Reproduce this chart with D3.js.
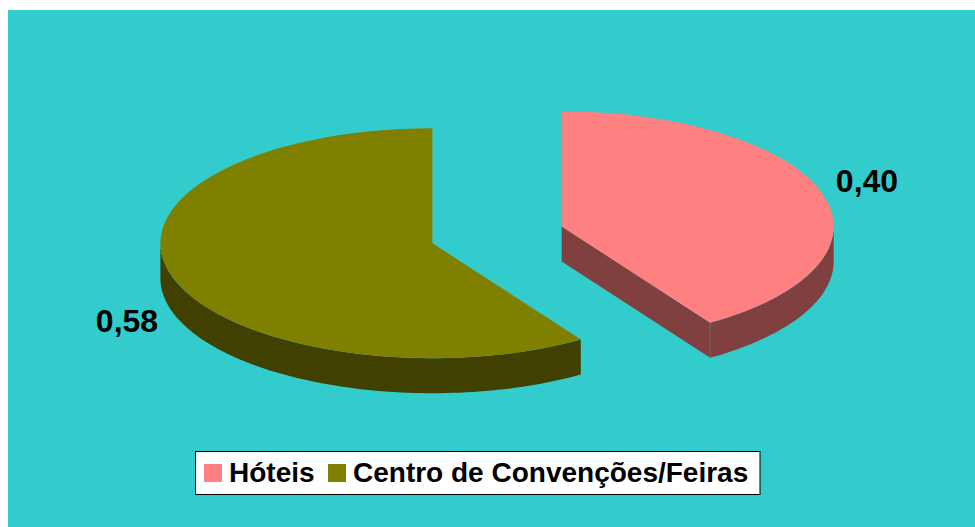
<!DOCTYPE html>
<html><head><meta charset="utf-8">
<script src="https://cdn.jsdelivr.net/npm/d3@7/dist/d3.min.js"></script>
<style>html,body{margin:0;padding:0;background:#fff}svg{display:block}text{font-family:"Liberation Sans",Arial,sans-serif;font-weight:bold;fill:#000}</style>
</head><body><script>
const categories = ["Hóteis", "Centro de Convenções/Feiras"];
const values = [0.40, 0.58];
const valueLabels = ["0,40", "0,58"];
const topColors = ["#FF8080", "#808000"];
const sideColors = ["#804040", "#404000"];

const W = 975, H = 527;
const rx = 272, ry = 115, depth = 35;
const centers = [[561.7, 226.4], [432.4, 243.2]];
const labelPos = [[867, 192], [127, 332]];

const svg = d3.select("body").append("svg").attr("width", W).attr("height", H);
svg.append("rect").attr("x", 8).attr("y", 10).attr("width", W - 8).attr("height", H - 10).attr("fill", "#33CCCC");

const arcs = d3.pie().sort(null).value(d => d)(values);
const arcGen = d3.arc().innerRadius(0).outerRadius(rx);

// Maps pie angle (clockwise from 12 o'clock) to the tilted ellipse
const px = a => rx * Math.sin(a);
const py = a => -ry * Math.cos(a);

function wall(c, a0, a1) {
  const p = d3.path();
  const n = 90;
  const pts = d3.range(n + 1).map(i => a0 + (a1 - a0) * i / n);
  pts.forEach((a, i) => { i ? p.lineTo(c[0] + px(a), c[1] + py(a)) : p.moveTo(c[0] + px(a), c[1] + py(a)); });
  pts.slice().reverse().forEach(a => p.lineTo(c[0] + px(a), c[1] + py(a) + depth));
  p.closePath();
  return p.toString();
}
function cutFace(c, a) {
  const p = d3.path();
  p.moveTo(c[0], c[1]);
  p.lineTo(c[0] + px(a), c[1] + py(a));
  p.lineTo(c[0] + px(a), c[1] + py(a) + depth);
  p.lineTo(c[0], c[1] + depth);
  p.closePath();
  return p.toString();
}

// Hotel slice walls: outer rim from 3 o'clock to the cut, and the cut face
svg.append("path").attr("d", cutFace(centers[0], arcs[0].endAngle)).attr("fill", sideColors[0]);
svg.append("path").attr("d", wall(centers[0], Math.PI / 2, arcs[0].endAngle)).attr("fill", sideColors[0]);
svg.append("line")
  .attr("x1", centers[0][0] + px(arcs[0].endAngle)).attr("x2", centers[0][0] + px(arcs[0].endAngle))
  .attr("y1", centers[0][1] + py(arcs[0].endAngle)).attr("y2", centers[0][1] + py(arcs[0].endAngle) + depth)
  .attr("stroke", "#8a6a6a").attr("stroke-width", 0.7);
// Convention slice wall: outer rim from the cut to 9 o'clock
svg.append("path").attr("d", wall(centers[1], arcs[1].startAngle, Math.PI * 1.5)).attr("fill", sideColors[1]);

// Tops
svg.selectAll("path.top").data(arcs).join("path").attr("class", "top")
  .attr("transform", (d, i) => `translate(${centers[i][0]},${centers[i][1]}) scale(1,${ry / rx})`)
  .attr("d", arcGen).attr("fill", (d, i) => topColors[i]);

// Value labels
svg.selectAll("text.val").data(valueLabels).join("text").attr("class", "val")
  .attr("x", (d, i) => labelPos[i][0]).attr("y", (d, i) => labelPos[i][1])
  .attr("text-anchor", "middle").attr("font-size", 32).text(d => d);

// Legend
const lg = svg.append("g");
lg.append("rect").attr("x", 195.5).attr("y", 451.5).attr("width", 564.5).attr("height", 43)
  .attr("fill", "#fff").attr("stroke", "#000").attr("stroke-width", 1);
const swatchX = [204, 328], textX = [229, 353];
lg.selectAll("rect.sw").data(categories).join("rect").attr("class", "sw")
  .attr("x", (d, i) => swatchX[i]).attr("y", 464).attr("width", 18).attr("height", 18)
  .attr("fill", (d, i) => topColors[i]);
lg.selectAll("text.lab").data(categories).join("text").attr("class", "lab")
  .attr("x", (d, i) => textX[i]).attr("y", 482).attr("font-size", 28).text(d => d);
</script></body></html>
